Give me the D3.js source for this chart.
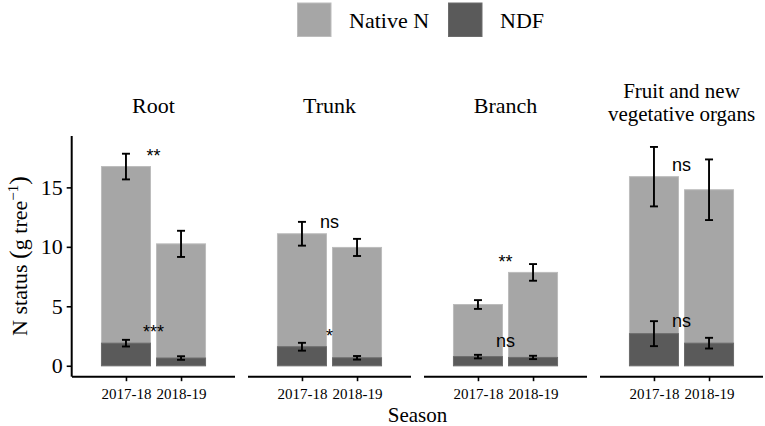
<!DOCTYPE html>
<html>
<head>
<meta charset="utf-8">
<script src="https://cdn.jsdelivr.net/npm/d3@7"></script>
<style>
  body { margin: 0; background: #fff; }
  .serif { font-family: "Liberation Serif", "Times New Roman", serif; }
  .sans { font-family: "Liberation Sans", Arial, sans-serif; }
</style>
</head>
<body>
<div class="c_chart"></div>
<script>
/* DATA
------------------------------------------------------ */
const organs = ["Root", "Trunk", "Branch", "Fruit and new\nvegetative organs"];
const seasons = ["2017-18", "2018-19"];
const series = ["Native N", "NDF"];

// mean and standard error per organ, per season
const nativeMean = [[16.75, 10.25], [11.1, 9.95], [5.15, 7.85], [15.9, 14.8]];
const nativeSe   = [[1.08, 1.1],   [1.0, 0.72],  [0.37, 0.7], [2.5, 2.55]];
const ndfMean    = [[1.9, 0.65],   [1.6, 0.67],  [0.77, 0.7], [2.7, 1.9]];
const ndfSe      = [[0.28, 0.15],  [0.33, 0.15], [0.15, 0.14], [1.05, 0.45]];

// significance labels between seasons
const nativeSig  = ["**", "ns", "**", "ns"];
const nativeSigY = [17.16, 11.62, 8.25, 16.41];
const ndfSig     = ["***", "*", "ns", "ns"];
const ndfSigY    = [2.34, 1.97, 1.6, 3.28];

const yTicks = [0, 5, 10, 15];

/* SVG, FORMAT
------------------------------------------------------ */
const width = 765, height = 426;
const colors = {"Native N": "#a6a6a6", "NDF": "#5a5a5a"};
const strokes = {"Native N": "#bcbcbc", "NDF": "#6c6c6c"};

let svg = d3.select(".c_chart")
  .append("svg")
  .attr("width", width)
  .attr("height", height);

/* SCALES
------------------------------------------------------ */
let panel = d3.scaleBand()
  .domain(organs)
  .range([72, 763])
  .paddingInner(13 / 176)
  .paddingOuter(0);

let x = d3.scalePoint()
  .domain(seasons)
  .range([0, panel.bandwidth()])
  .padding(0.98);

let y = d3.scaleLinear()
  .domain([-0.92, 19.32])
  .range([376.7, 136]);

const barW = x.step() * 0.89;

/* LEGEND
------------------------------------------------------ */
let legend = svg.append("g").attr("class", "serif");
let legX = d3.scaleOrdinal().domain(series).range([297.5, 448.5]);
series.forEach(s => {
  legend.append("rect")
    .attr("x", legX(s)).attr("y", 3)
    .attr("width", 33.5).attr("height", 33.5)
    .attr("fill", colors[s]).attr("stroke", strokes[s]);
  legend.append("text")
    .attr("x", legX(s) + 51.5).attr("y", 28.3)
    .attr("font-size", 22)
    .text(s);
});

/* PANELS
------------------------------------------------------ */
organs.forEach((organ, i) => {
  let g = svg.append("g")
    .attr("transform", `translate(${panel(organ)},0)`);

  // strip title
  let lines = organ.split("\n");
  let title = g.append("text")
    .attr("class", "serif")
    .attr("text-anchor", "middle")
    .attr("font-size", lines.length === 1 ? 22 : 21);
  lines.forEach((l, k) => {
    title.append("tspan")
      .attr("x", panel.bandwidth() / 2)
      .attr("y", lines.length === 1 ? 113 : 98 + k * 23)
      .text(l);
  });

  // bars (native behind, ndf in front)
  [[nativeMean, "Native N"], [ndfMean, "NDF"]].forEach(([m, s]) => {
    g.selectAll(null)
      .data(seasons)
      .enter()
      .append("rect")
      .attr("x", d => x(d) - barW / 2)
      .attr("y", (d, j) => y(m[i][j]))
      .attr("width", barW)
      .attr("height", (d, j) => y(0) - y(m[i][j]))
      .attr("fill", colors[s])
      .attr("stroke", strokes[s])
      .attr("stroke-width", 1);
  });

  // error bars
  [[nativeMean, nativeSe], [ndfMean, ndfSe]].forEach(([m, se]) => {
    seasons.forEach((d, j) => {
      let lo = y(m[i][j] - se[i][j]), hi = y(m[i][j] + se[i][j]);
      let cx = x(d);
      let eb = g.append("g").attr("stroke", "#000").attr("stroke-width", 1.9);
      eb.append("line").attr("x1", cx).attr("x2", cx).attr("y1", lo).attr("y2", hi);
      eb.append("line").attr("x1", cx - 4).attr("x2", cx + 4).attr("y1", lo).attr("y2", lo);
      eb.append("line").attr("x1", cx - 4).attr("x2", cx + 4).attr("y1", hi).attr("y2", hi);
    });
  });

  // significance labels
  let mid = panel.bandwidth() / 2;
  [[nativeSig, nativeSigY], [ndfSig, ndfSigY]].forEach(([lab, ly]) => {
    g.append("text")
      .attr("class", "sans")
      .attr("text-anchor", "middle")
      .attr("font-size", 18)
      .attr("x", mid)
      .attr("y", y(ly[i]))
      .text(lab[i]);
  });

  // x axis
  let xa = g.append("g")
    .attr("transform", `translate(0,${y.range()[0]})`)
    .call(d3.axisBottom(x).tickSize(4.5).tickPadding(7));
  xa.select(".domain")
    .attr("d", `M0,0H${panel.bandwidth()}`)
    .attr("stroke-width", 2);
  xa.selectAll(".tick line").attr("stroke-width", 1.6);
  xa.selectAll("text")
    .attr("class", "serif")
    .attr("font-size", 15)
    .attr("fill", "#000");
});

/* Y AXIS
------------------------------------------------------ */
let ya = svg.append("g")
  .attr("transform", `translate(71.7,0)`)
  .call(d3.axisLeft(y).tickValues(yTicks).tickSize(5).tickPadding(4));
ya.select(".domain")
  .attr("d", `M0,${y.range()[0]}V${y.range()[1]}`)
  .attr("stroke-width", 2);
ya.selectAll(".tick line").attr("stroke-width", 1.6);
ya.selectAll("text")
  .attr("class", "serif")
  .attr("font-size", 22)
  .attr("fill", "#000");

/* AXIS TITLES
------------------------------------------------------ */
svg.append("text")
  .attr("class", "serif")
  .attr("text-anchor", "middle")
  .attr("font-size", 21)
  .attr("x", 417.5)
  .attr("y", 421.5)
  .text("Season");

let yl = svg.append("text")
  .attr("class", "serif")
  .attr("text-anchor", "middle")
  .attr("font-size", 22)
  .attr("transform", "translate(27,256) rotate(-90)");
yl.append("tspan").text("N status ");
yl.append("tspan").attr("font-size", 26).text("(");
yl.append("tspan").text("g tree");
yl.append("tspan").attr("font-size", 15).attr("dy", -9).text("\u22121");
yl.append("tspan").attr("font-size", 26).attr("dy", 9).text(")");
</script>
</body>
</html>
